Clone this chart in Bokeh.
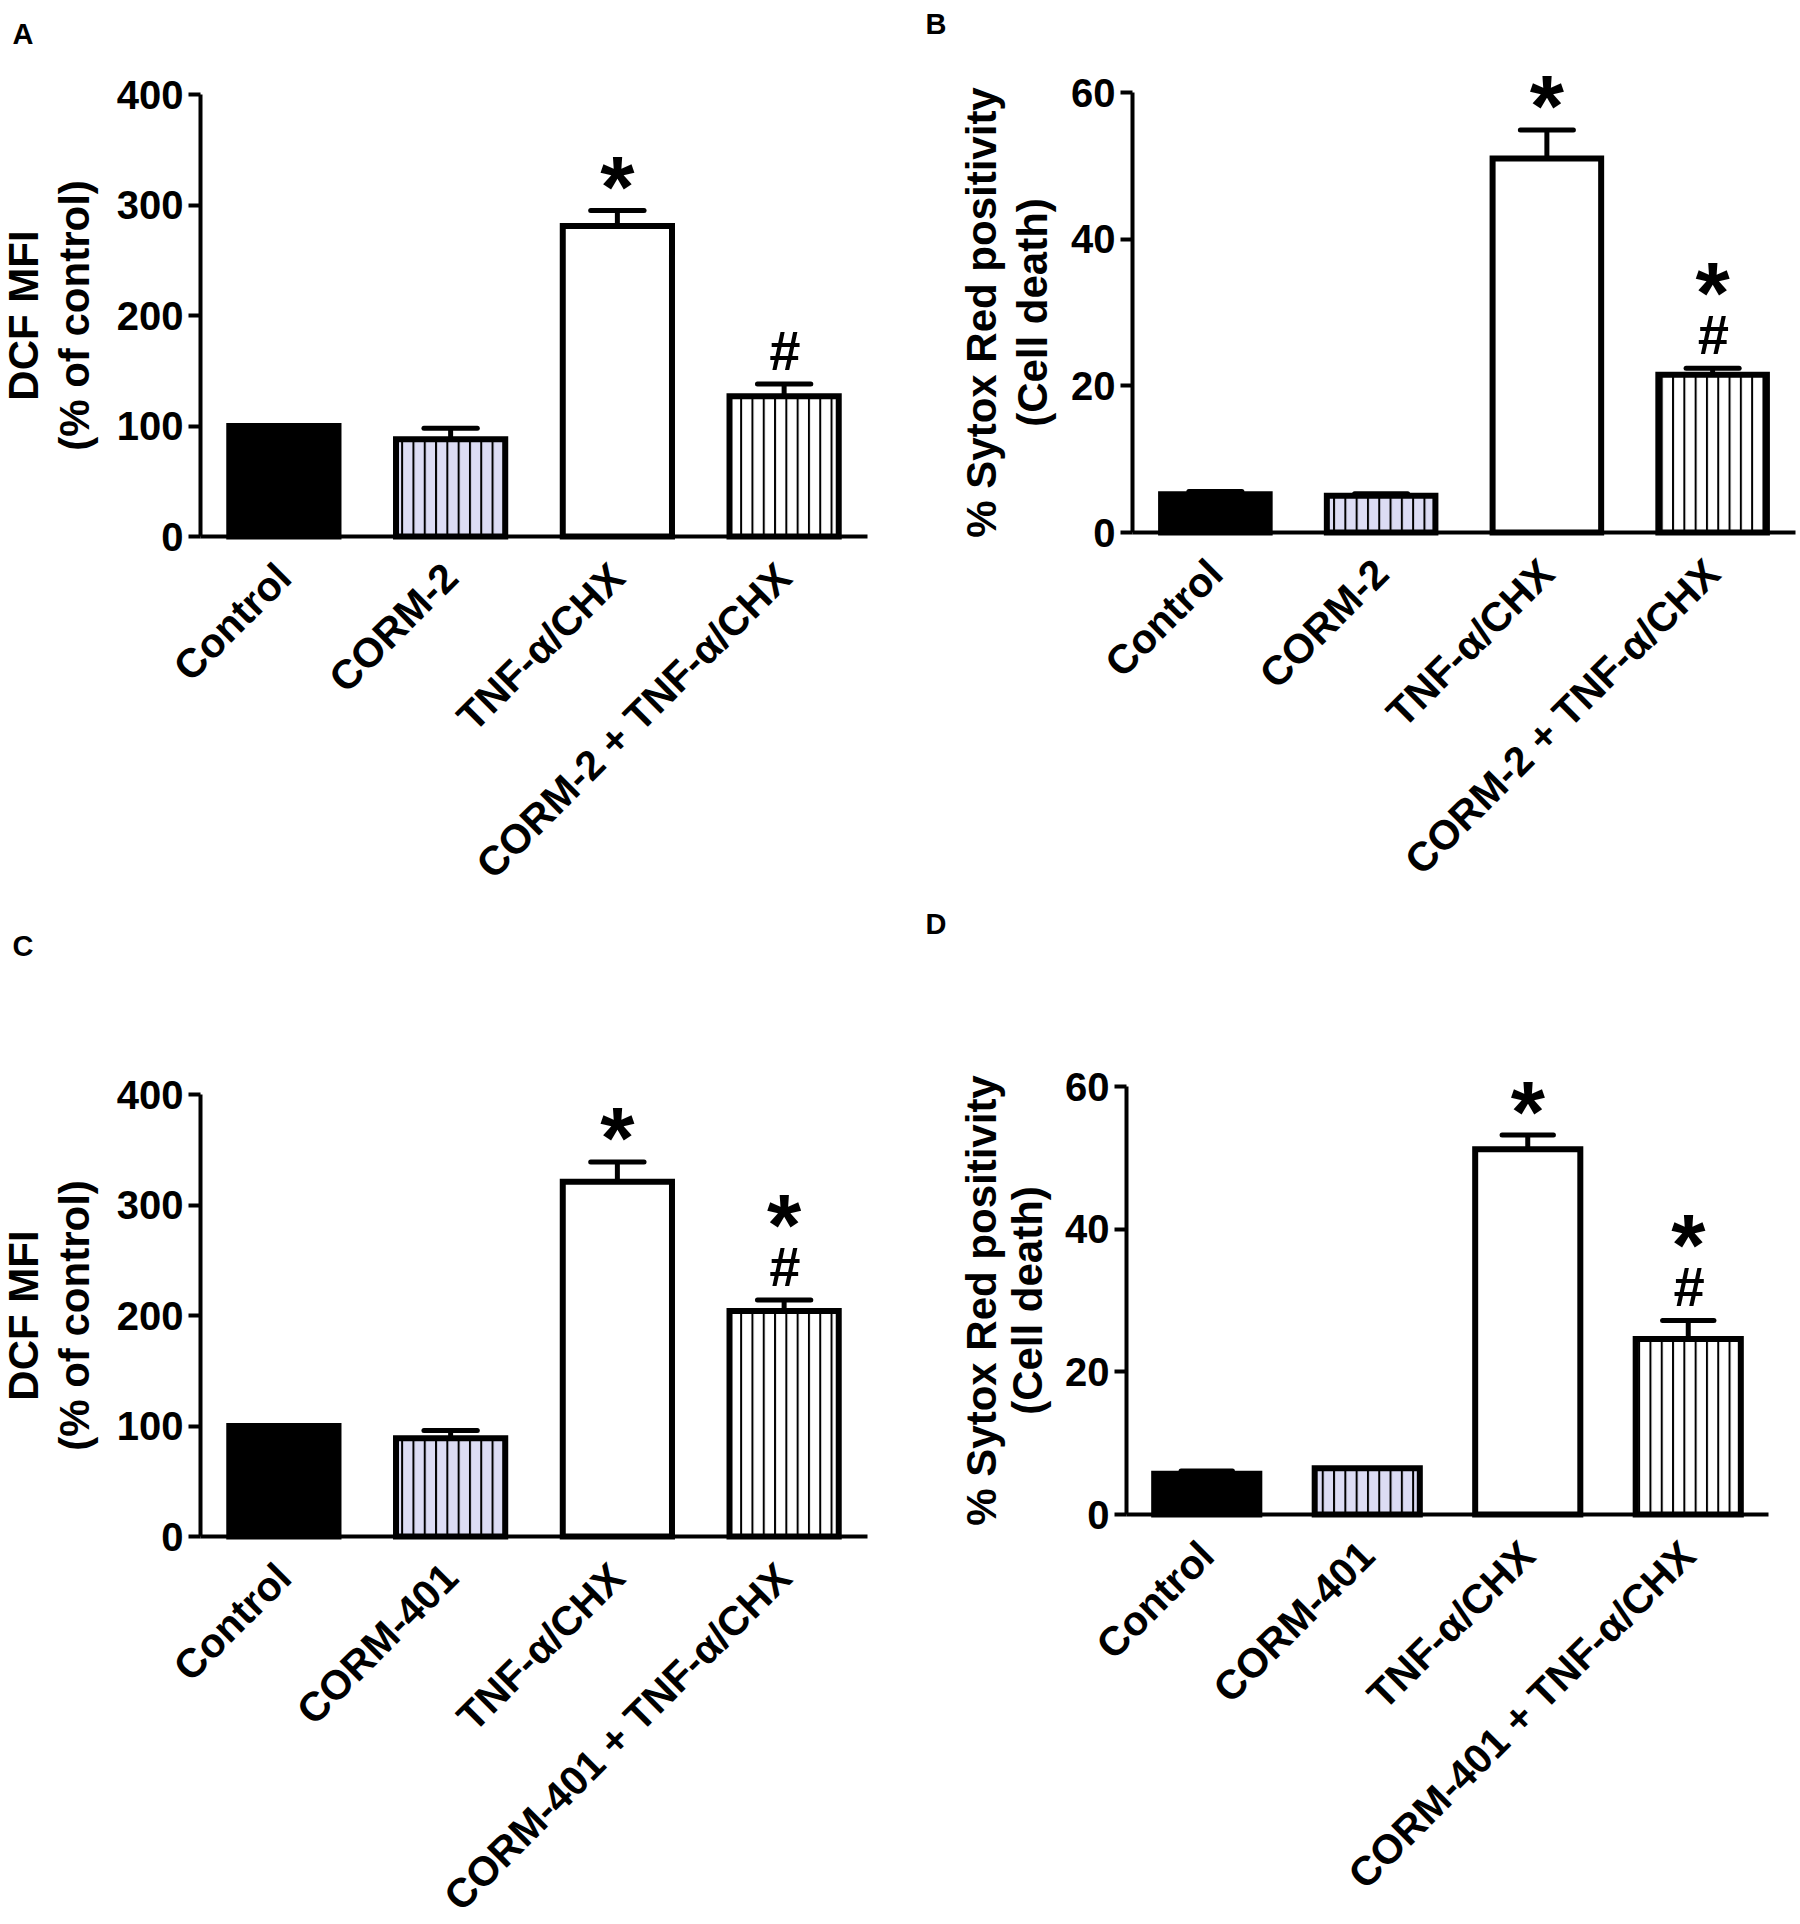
import math
from bokeh.plotting import figure
from bokeh.models import (ColumnDataSource, LabelSet, Range1d, FixedTicker,
                          LinearAxis, CustomJSTickFormatter)
from bokeh.core.properties import value
from bokeh.transform import dodge
from bokeh.layouts import gridplot
from bokeh.embed import file_html
from bokeh.resources import INLINE

FONT = "Liberation Sans"

# ---------------- data ----------------
cats_A = ["Control", "CORM-2", "TNF-α/CHX", "CORM-2 + TNF-α/CHX"]
vals_A = [100, 88, 281, 127]
errs_A = [0, 10, 14, 11]
sig_A = [[], [], ["*"], ["#"]]

cats_B = ["Control", "CORM-2", "TNF-α/CHX", "CORM-2 + TNF-α/CHX"]
vals_B = [5.2, 5.0, 51.0, 21.5]
errs_B = [0.4, 0.3, 3.9, 0.9]
sig_B = [[], [], ["*"], ["#", "*"]]

cats_C = ["Control", "CORM-401", "TNF-α/CHX", "CORM-401 + TNF-α/CHX"]
vals_C = [100, 89, 321, 204]
errs_C = [0, 7, 18, 10]
sig_C = [[], [], ["*"], ["#", "*"]]

cats_D = ["Control", "CORM-401", "TNF-α/CHX", "CORM-401 + TNF-α/CHX"]
vals_D = [5.7, 6.5, 51.2, 24.6]
errs_D = [0.4, 0.0, 2.0, 2.6]
sig_D = [[], [], ["*"], ["#", "*"]]

ticks_dcf = [0, 100, 200, 300, 400]
ticks_sytox = [0, 20, 40, 60]
title_dcf = ["DCF MFI", "(% of control)"]
title_sytox = ["% Sytox Red positivity", "(Cell death)"]

# ---------------- styling ----------------
BAR_FILL = ["black", "#DCDCF4", "white", "white"]
BAR_HATCH = [" ", "|", " ", "|"]
PAD = 4  # tiny border around each frame


def text_set(p, data, size, style="bold", **kw):
    p.add_layout(LabelSet(source=ColumnDataSource(data), x="x", y="y", text="t",
                          text_font=value(FONT), text_font_size=value(size),
                          text_font_style=style, text_color="black", **kw))


def panel(cats, vals, errs, sig, ticks, title, letter, g):
    n = len(cats)
    idx = list(range(n))
    ymax = ticks[-1]
    # ranges chosen so the frame fills the figure and the axes sit at g["ox"], g["oy"]
    x0 = -0.5 - (g["ox"] - PAD) / g["sp"]
    y1 = (g["oy"] - PAD) / g["ppu"]
    p = figure(x_range=Range1d(x0, x0 + (g["w"] - 2 * PAD) / g["sp"]),
               y_range=Range1d(y1 - (g["h"] - 2 * PAD) / g["ppu"], y1),
               width=g["w"], height=g["h"], min_border=PAD,
               min_border_left=PAD, min_border_right=PAD,
               min_border_top=PAD, min_border_bottom=PAD,
               x_axis_location=None, y_axis_location=None, title=None,
               output_backend="svg", toolbar_location=None, tools="")
    p.outline_line_color = None
    p.grid.visible = False
    p.background_fill_color = "white"
    p.border_fill_color = "white"

    # bars
    src = ColumnDataSource(dict(x=idx, top=vals, fill=BAR_FILL, hatch=BAR_HATCH))
    p.vbar(x="x", top="top", bottom=0, width=0.655, source=src,
           fill_color="fill", line_color="black", line_width=6, line_join="miter",
           hatch_pattern="hatch", hatch_color="black", hatch_scale=11.3,
           hatch_weight=2)

    # error bars (upper only)
    ex = [i for i, e in zip(idx, errs) if e > 0]
    ey0 = [v for v, e in zip(vals, errs) if e > 0]
    ey1 = [v + e for v, e in zip(vals, errs) if e > 0]
    esrc = ColumnDataSource(dict(x=ex, y0=ey0, y1=ey1))
    p.segment(x0="x", y0="y0", x1="x", y1="y1", source=esrc,
              line_color="black", line_width=5)
    p.segment(x0=dodge("x", -0.16), y0="y1", x1=dodge("x", 0.16), y1="y1",
              source=esrc, line_color="black", line_width=5, line_cap="round")

    # axes (lines and ticks)
    xa = LinearAxis(ticker=FixedTicker(ticks=[]), fixed_location=0,
                    bounds=(-0.5, n - 0.5), axis_line_width=4,
                    axis_line_color="black", major_tick_out=0, major_tick_in=0,
                    minor_tick_out=0, minor_tick_in=0, major_label_standoff=0)
    p.add_layout(xa, "below")
    ya = LinearAxis(ticker=FixedTicker(ticks=ticks), fixed_location=-0.5,
                    bounds=(0, ymax), axis_line_width=4, axis_line_color="black",
                    major_tick_in=12, major_tick_out=0, major_tick_line_width=4,
                    major_tick_line_color="black", minor_tick_in=0, minor_tick_out=0,
                    minor_tick_line_color=None, major_label_standoff=0,
                    formatter=CustomJSTickFormatter(code="return ''"))
    p.add_layout(ya, "right")

    # y tick labels
    text_set(p, dict(x=[-0.5] * len(ticks), y=ticks, t=[str(t) for t in ticks]),
             "40px", x_offset=-17, text_align="right", text_baseline="middle")
    # category labels, rotated 45 degrees, ending under each bar
    text_set(p, dict(x=idx, y=[0] * n, t=cats), "41px", angle=math.pi / 4,
             y_offset=-34, text_align="right", text_baseline="middle")
    # two-line y title
    for off, txt in zip(g["toff"], title):
        text_set(p, dict(x=[-0.5], y=[ymax / 2], t=[txt]), "42px", x_offset=off,
                 angle=math.pi / 2, text_align="center", text_baseline="alphabetic")
    # panel letter
    text_set(p, dict(x=[-0.5], y=[ymax], t=[letter]), "29px", x_offset=g["lx"],
             y_offset=g["ly"], text_align="left", text_baseline="alphabetic")

    # significance marks stacked above the error bar
    star = dict(x=[], y=[], t=[], off=[])
    hsh = dict(x=[], y=[], t=[], off=[])
    for i, v, e, marks in zip(idx, vals, errs, sig):
        for j, m in enumerate(marks):
            d = star if m == "*" else hsh
            d["x"].append(i)
            d["y"].append(v + e)
            d["t"].append(m)
            d["off"].append(34 + 52 * j - (10 if m == "*" else 0))
    text_set(p, star, "88px", y_offset="off", text_align="center",
             text_baseline="middle")
    text_set(p, hsh, "56px", style="bold italic", y_offset="off",
             text_align="center", text_baseline="middle")
    return p


# pixel geometry: figure size, axis origin in the figure, px per bar slot / y unit,
# title line offsets and panel-letter offsets
gA = dict(w=898, h=900, ox=200, oy=536, sp=166.75, ppu=442 / 400,
          toff=[-163, -112], lx=-188, ly=51)
gB = dict(w=902, h=900, ox=234, oy=532, sp=165.75, ppu=440 / 60,
          toff=[-137, -86], lx=-207, ly=59)
gC = dict(w=898, h=1024, ox=200, oy=636, sp=166.75, ppu=442 / 400,
          toff=[-163, -112], lx=-188, ly=139)
gD = dict(w=902, h=1024, ox=228, oy=614, sp=160.5, ppu=428 / 60,
          toff=[-131, -85], lx=-201, ly=153)

pA = panel(cats_A, vals_A, errs_A, sig_A, ticks_dcf, title_dcf, "A", gA)
pB = panel(cats_B, vals_B, errs_B, sig_B, ticks_sytox, title_sytox, "B", gB)
pC = panel(cats_C, vals_C, errs_C, sig_C, ticks_dcf, title_dcf, "C", gC)
pD = panel(cats_D, vals_D, errs_D, sig_D, ticks_sytox, title_sytox, "D", gD)

grid = gridplot([[pA, pB], [pC, pD]], toolbar_location=None)

open("out.html", "w").write(file_html(grid, INLINE))
